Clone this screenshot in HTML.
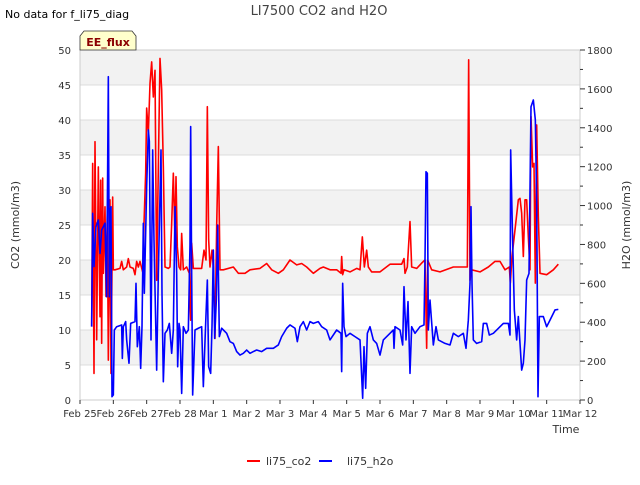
<!DOCTYPE html>
<html><head><meta charset="utf-8"><style>
body{margin:0;background:#fff;font-family:"Liberation Sans","DejaVu Sans",sans-serif;}
svg text{font-family:"DejaVu Sans","Liberation Sans",sans-serif;}
</style></head><body>
<svg id="chart" width="640" height="480" xmlns="http://www.w3.org/2000/svg">
<text x="319" y="15" text-anchor="middle" font-size="13" fill="#444">LI7500 CO2 and H2O</text>
<text x="5" y="18" font-size="11" fill="#000">No data for f_li75_diag</text>
<g id="plot"></g>
<g><path d="M80,50 L80,36 L84,31 L132,31 L136,36 L136,50 Z" fill="#ffffcc" stroke="#333" stroke-width="0.8"/><text x="108" y="46" text-anchor="middle" font-size="11" font-weight="bold" fill="#8b0000">EE_flux</text></g>
<text transform="translate(19,225) rotate(-90)" text-anchor="middle" font-size="11" fill="#333">CO2 (mmol/m3)</text>
<text transform="translate(630,225) rotate(-90)" text-anchor="middle" font-size="11" fill="#333">H2O (mmol/m3)</text>
<text x="566" y="433" text-anchor="middle" font-size="11" fill="#333">Time</text>
<g>
<g><line x1="247" y1="461" x2="260" y2="461" stroke="#f00" stroke-width="2"/><text x="266" y="465" font-size="11" fill="#333">li75_co2</text></g>
<g><line x1="319" y1="461" x2="332" y2="461" stroke="#00f" stroke-width="2"/><text x="347" y="465" font-size="11" fill="#333">li75_h2o</text></g>
</g>
</svg>
<script>
const xTickLabels=["Feb 25","Feb 26","Feb 27","Feb 28","Mar 1","Mar 2","Mar 3","Mar 4","Mar 5","Mar 6","Mar 7","Mar 8","Mar 9","Mar 10","Mar 11","Mar 12"];
const leftTicks=[0,5,10,15,20,25,30,35,40,45,50];
const rightTicks=[0,200,400,600,800,1000,1200,1400,1600,1800];
const co2Data=[[0.35,10.5],[0.38,33.8],[0.42,3.8],[0.45,36.9],[0.5,8.6],[0.55,33.3],[0.6,11.9],[0.62,31.4],[0.65,8.1],[0.68,31.7],[0.7,18.1],[0.75,27.6],[0.78,14.8],[0.82,27.0],[0.85,5.7],[0.9,28.6],[0.93,3.8],[0.98,29.0],[1.0,18.6],[1.05,18.6],[1.2,18.8],[1.25,19.8],[1.3,18.6],[1.4,19.0],[1.45,20.2],[1.5,19.0],[1.6,18.8],[1.65,17.9],[1.7,19.8],[1.75,19.0],[1.8,19.8],[1.88,18.3],[1.92,25.2],[1.97,32.4],[2.0,41.7],[2.05,38.1],[2.1,45.2],[2.15,48.3],[2.2,43.3],[2.25,47.1],[2.3,17.1],[2.35,33.3],[2.4,48.8],[2.45,44.3],[2.5,33.3],[2.55,19.0],[2.65,18.8],[2.7,19.0],[2.75,25.2],[2.8,32.4],[2.85,22.9],[2.88,31.9],[2.92,21.9],[2.97,19.0],[3.02,18.6],[3.05,23.8],[3.1,18.6],[3.2,19.0],[3.28,18.1],[3.32,11.4],[3.35,22.4],[3.4,18.8],[3.65,18.8],[3.72,21.4],[3.78,20.0],[3.82,41.9],[3.86,22.9],[3.9,19.0],[3.96,21.4],[4.0,19.0],[4.05,8.8],[4.1,24.8],[4.15,36.2],[4.2,18.6],[4.3,18.6],[4.6,19.0],[4.75,18.1],[4.95,18.1],[5.1,18.6],[5.4,18.8],[5.6,19.5],[5.75,18.6],[5.95,18.1],[6.1,18.6],[6.3,20.0],[6.5,19.3],[6.65,19.5],[6.8,19.0],[7.0,18.1],[7.2,18.8],[7.3,19.0],[7.5,18.6],[7.7,18.6],[7.83,18.1],[7.85,20.5],[7.88,17.9],[7.92,18.6],[8.1,18.3],[8.3,18.8],[8.4,18.6],[8.47,23.3],[8.53,19.0],[8.6,21.4],[8.65,19.0],[8.75,18.3],[9.0,18.3],[9.3,19.4],[9.65,19.4],[9.72,20.2],[9.75,18.1],[9.82,19.0],[9.9,25.5],[9.95,19.0],[10.1,18.8],[10.28,19.7],[10.35,20.0],[10.4,7.4],[10.43,20.0],[10.55,18.6],[10.8,18.3],[11.2,19.0],[11.62,19.0],[11.66,48.6],[11.7,17.1],[11.75,18.6],[12.0,18.3],[12.25,19.0],[12.45,19.8],[12.6,19.8],[12.75,18.6],[12.88,19.0],[12.91,16.7],[12.96,20.5],[13.05,24.3],[13.15,28.6],[13.2,28.8],[13.25,26.7],[13.3,20.5],[13.35,28.6],[13.4,28.6],[13.45,23.3],[13.5,18.6],[13.53,40.5],[13.58,33.3],[13.62,33.8],[13.66,16.7],[13.7,39.3],[13.75,26.2],[13.8,18.1],[14.0,17.9],[14.2,18.6],[14.35,19.4]];
const h2oData=[[0.35,377],[0.38,960],[0.42,686],[0.48,891],[0.55,926],[0.6,754],[0.65,874],[0.7,891],[0.75,909],[0.8,531],[0.85,1663],[0.88,531],[0.9,977],[0.93,994],[0.96,17],[1.0,26],[1.03,360],[1.1,377],[1.25,386],[1.27,214],[1.3,377],[1.37,403],[1.4,309],[1.47,189],[1.52,394],[1.65,403],[1.68,600],[1.72,274],[1.78,377],[1.82,163],[1.86,377],[1.9,909],[1.93,549],[2.0,1097],[2.05,1389],[2.08,1330],[2.13,309],[2.18,1286],[2.22,823],[2.3,154],[2.35,651],[2.43,1286],[2.46,549],[2.5,94],[2.55,343],[2.62,360],[2.68,394],[2.75,240],[2.8,360],[2.85,994],[2.9,651],[2.93,171],[2.97,394],[3.0,360],[3.05,34],[3.1,377],[3.18,343],[3.25,360],[3.3,797],[3.32,1406],[3.35,651],[3.38,26],[3.45,360],[3.55,369],[3.65,377],[3.7,69],[3.77,394],[3.82,617],[3.86,171],[3.92,137],[3.96,377],[4.0,771],[4.04,317],[4.09,514],[4.13,900],[4.18,326],[4.25,369],[4.4,343],[4.5,300],[4.6,291],[4.7,249],[4.8,231],[4.9,240],[5.0,257],[5.1,240],[5.2,249],[5.3,257],[5.45,249],[5.6,266],[5.8,266],[5.95,283],[6.05,326],[6.2,369],[6.3,386],[6.45,369],[6.52,300],[6.6,377],[6.7,403],[6.8,360],[6.9,403],[7.0,394],[7.15,403],[7.25,377],[7.4,360],[7.5,309],[7.7,360],[7.83,343],[7.85,146],[7.88,600],[7.92,377],[7.98,326],[8.1,343],[8.25,326],[8.4,309],[8.48,9],[8.52,274],[8.57,60],[8.62,343],[8.7,377],[8.8,309],[8.9,291],[9.0,231],[9.1,309],[9.3,343],[9.4,360],[9.42,266],[9.45,377],[9.6,360],[9.68,283],[9.72,583],[9.78,309],[9.84,506],[9.9,137],[9.95,377],[10.05,343],[10.2,377],[10.32,386],[10.35,720],[10.38,1174],[10.42,1166],[10.45,360],[10.5,514],[10.6,283],[10.68,377],[10.75,309],[10.95,291],[11.1,283],[11.2,343],[11.35,326],[11.5,343],[11.58,266],[11.65,411],[11.7,600],[11.73,994],[11.76,600],[11.8,309],[11.9,291],[12.05,300],[12.1,394],[12.2,394],[12.28,334],[12.4,343],[12.7,394],[12.85,394],[12.9,334],[12.92,1286],[12.97,891],[13.03,463],[13.1,309],[13.15,429],[13.2,291],[13.25,154],[13.3,189],[13.35,309],[13.4,617],[13.47,651],[13.53,1508],[13.6,1543],[13.66,1440],[13.7,1028],[13.74,17],[13.78,429],[13.9,429],[14.0,377],[14.1,411],[14.25,463],[14.35,466]];

const X0=80,X1=580,Y0=400,Y1=50;
const xs=d=>X0+d*(X1-X0)/15;
const yL=v=>Y0-v*(Y0-Y1)/50;
const yR=v=>Y0-v*(Y0-Y1)/1800;
const NS="http://www.w3.org/2000/svg";
const plot=document.getElementById('plot');
function mk(tag,attrs,parent){const e=document.createElementNS(NS,tag);for(const k in attrs)e.setAttribute(k,attrs[k]);(parent||plot).appendChild(e);return e;}
// bands and gridlines
for(let i=0;i<leftTicks.length-1;i++){
  if(i%2===1){const r=mk('rect',{x:X0,y:yL(leftTicks[i+1]),width:X1-X0,height:yL(leftTicks[i])-yL(leftTicks[i+1]),fill:'#f2f2f2'});
  
  }
}
leftTicks.forEach(v=>{const l=mk('line',{x1:X0,x2:X1,y1:yL(v),y2:yL(v),stroke:'#dcdcdc','stroke-width':1});


const t=mk('text',{x:X0-9,y:yL(v)+4,'text-anchor':'end','font-size':10,fill:'#333'});t.textContent=v;

});
const frame=mk('rect',{x:X0,y:Y1,width:X1-X0,height:Y0-Y1,fill:'none',stroke:'#ccc','stroke-width':1});


rightTicks.forEach(v=>{mk('line',{x1:X1,x2:X1+5,y1:yR(v),y2:yR(v),stroke:'#333'});
const t=mk('text',{x:X1+7,y:yR(v)+4,'font-size':10,fill:'#333'});t.textContent=v;


if(v<1800)mk('line',{x1:X1,x2:X1+3,y1:yR(v+100),y2:yR(v+100),stroke:'#333'});});
xTickLabels.forEach((s,i)=>{mk('line',{x1:xs(i),x2:xs(i),y1:Y0,y2:Y0+4,stroke:'#333'});
const t=mk('text',{x:xs(i),y:Y0+17,'text-anchor':'middle','font-size':10,fill:'#333'});t.textContent=s;

});
const co2=mk('polyline',{points:co2Data.map(p=>xs(p[0])+','+yL(p[1])).join(' '),fill:'none',stroke:'#f00','stroke-width':1.6,'stroke-linejoin':'round'});


const h2o=mk('polyline',{points:h2oData.map(p=>xs(p[0])+','+yR(p[1])).join(' '),fill:'none',stroke:'#00f','stroke-width':1.6,'stroke-linejoin':'round'});


</script>
</body></html>
